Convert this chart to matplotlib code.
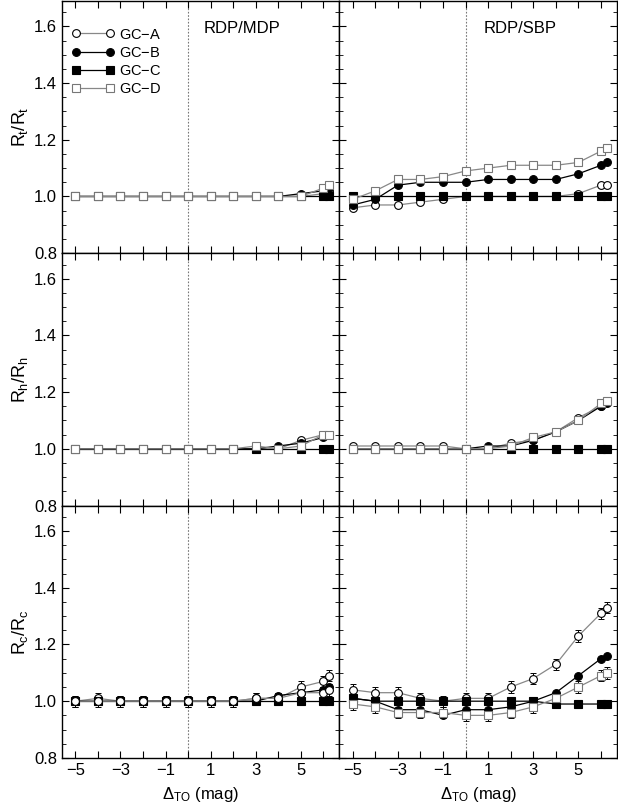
import matplotlib
matplotlib.use('Agg')
import matplotlib.pyplot as plt
from matplotlib.ticker import MultipleLocator, FormatStrFormatter

plt.rcParams['font.family'] = ['Liberation Sans', 'DejaVu Sans']
plt.rcParams['mathtext.fontset'] = 'custom'
plt.rcParams['mathtext.rm'] = 'Liberation Sans'
plt.rcParams['mathtext.it'] = 'Liberation Sans'

dto = [-5, -4, -3, -2, -1, 0, 1, 2, 3, 4, 5, 6, 6.25]

# R_t, RDP/MDP
rt_mdp_a = [1.0, 1.0, 1.0, 1.0, 1.0, 1.0, 1.0, 1.0, 1.0, 1.0, 1.0, 1.01, 1.02]
rt_mdp_b = [1.0, 1.0, 1.0, 1.0, 1.0, 1.0, 1.0, 1.0, 1.0, 1.0, 1.01, 1.02, 1.03]
rt_mdp_c = [1.0, 1.0, 1.0, 1.0, 1.0, 1.0, 1.0, 1.0, 1.0, 1.0, 1.0, 1.0, 1.0]
rt_mdp_d = [1.0, 1.0, 1.0, 1.0, 1.0, 1.0, 1.0, 1.0, 1.0, 1.0, 1.0, 1.03, 1.04]
# R_t, RDP/SBP
rt_sbp_a = [0.96, 0.97, 0.97, 0.98, 0.99, 1.0, 1.0, 1.0, 1.0, 1.0, 1.01, 1.04, 1.04]
rt_sbp_b = [0.97, 0.99, 1.04, 1.05, 1.05, 1.05, 1.06, 1.06, 1.06, 1.06, 1.08, 1.11, 1.12]
rt_sbp_c = [1.0, 1.0, 1.0, 1.0, 1.0, 1.0, 1.0, 1.0, 1.0, 1.0, 1.0, 1.0, 1.0]
rt_sbp_d = [0.99, 1.02, 1.06, 1.06, 1.07, 1.09, 1.10, 1.11, 1.11, 1.11, 1.12, 1.16, 1.17]
# R_h, RDP/MDP
rh_mdp_a = [1.0, 1.0, 1.0, 1.0, 1.0, 1.0, 1.0, 1.0, 1.0, 1.0, 1.03, 1.05, 1.05]
rh_mdp_b = [1.0, 1.0, 1.0, 1.0, 1.0, 1.0, 1.0, 1.0, 1.0, 1.01, 1.02, 1.04, 1.05]
rh_mdp_c = [1.0, 1.0, 1.0, 1.0, 1.0, 1.0, 1.0, 1.0, 1.0, 1.0, 1.0, 1.0, 1.0]
rh_mdp_d = [1.0, 1.0, 1.0, 1.0, 1.0, 1.0, 1.0, 1.0, 1.01, 1.0, 1.01, 1.05, 1.05]
# R_h, RDP/SBP
rh_sbp_a = [1.01, 1.01, 1.01, 1.01, 1.01, 1.0, 1.0, 1.02, 1.03, 1.06, 1.11, 1.15, 1.17]
rh_sbp_b = [1.0, 1.0, 1.0, 1.0, 1.0, 1.0, 1.01, 1.01, 1.03, 1.06, 1.10, 1.15, 1.16]
rh_sbp_c = [1.0, 1.0, 1.0, 1.0, 1.0, 1.0, 1.0, 1.0, 1.0, 1.0, 1.0, 1.0, 1.0]
rh_sbp_d = [1.0, 1.0, 1.0, 1.0, 1.0, 1.0, 1.0, 1.01, 1.04, 1.06, 1.10, 1.16, 1.17]
# R_c, RDP/MDP
rc_mdp_a = [1.0, 1.01, 1.0, 1.0, 1.0, 1.0, 1.0, 1.0, 1.01, 1.01, 1.05, 1.07, 1.09]
rc_mdp_b = [1.0, 1.0, 1.0, 1.0, 1.0, 1.0, 1.0, 1.0, 1.0, 1.02, 1.03, 1.04, 1.05]
rc_mdp_c = [1.0, 1.0, 1.0, 1.0, 1.0, 1.0, 1.0, 1.0, 1.0, 1.0, 1.0, 1.0, 1.0]
rc_mdp_d = [1.0, 1.0, 1.0, 1.0, 1.0, 1.0, 1.0, 1.0, 1.01, 1.01, 1.03, 1.03, 1.04]
# R_c, RDP/SBP
rc_sbp_a = [1.04, 1.03, 1.03, 1.01, 1.0, 1.01, 1.01, 1.05, 1.08, 1.13, 1.23, 1.31, 1.33]
rc_sbp_b = [1.01, 1.0, 0.97, 0.97, 0.95, 0.97, 0.97, 0.98, 1.0, 1.03, 1.09, 1.15, 1.16]
rc_sbp_c = [1.01, 1.0, 1.0, 1.0, 1.0, 1.0, 1.0, 1.0, 1.0, 0.99, 0.99, 0.99, 0.99]
rc_sbp_d = [0.99, 0.98, 0.96, 0.96, 0.96, 0.95, 0.95, 0.96, 0.98, 1.01, 1.05, 1.09, 1.10]
rc_err = 0.02

labels = ['GC$-$A', 'GC$-$B', 'GC$-$C', 'GC$-$D']
ylabels = ['$R_t/R_t$', '$R_h/R_h$', '$R_c/R_c$']
titles = ['RDP/MDP', 'RDP/SBP']
xticklabels = ['\u22125', '', '\u22123', '', '\u22121', '', '1', '', '3', '', '5', '']

panels = [
    [(rt_mdp_a, rt_mdp_b, rt_mdp_c, rt_mdp_d), (rt_sbp_a, rt_sbp_b, rt_sbp_c, rt_sbp_d)],
    [(rh_mdp_a, rh_mdp_b, rh_mdp_c, rh_mdp_d), (rh_sbp_a, rh_sbp_b, rh_sbp_c, rh_sbp_d)],
    [(rc_mdp_a, rc_mdp_b, rc_mdp_c, rc_mdp_d), (rc_sbp_a, rc_sbp_b, rc_sbp_c, rc_sbp_d)],
]

styles = [
    dict(marker='o', mfc='white', mec='black', color='#888888'),
    dict(marker='o', mfc='black', mec='black', color='black'),
    dict(marker='s', mfc='black', mec='black', color='black'),
    dict(marker='s', mfc='white', mec='#777777', color='#888888'),
]

fig, axes = plt.subplots(3, 2, figsize=(6.18, 8.08), dpi=100, sharex=True, sharey=True)
fig.subplots_adjust(left=0.100, right=0.998, top=0.999, bottom=0.062, wspace=0, hspace=0)

for r in range(3):
    for c in range(2):
        ax = axes[r, c]
        ax.axvline(0, color='#777777', ls=(0, (1.5, 1.5)), lw=0.8, zorder=1)
        series = panels[r][c]
        for k in range(4):
            st = dict(styles[k])
            if r == 2 and c == 0 and k == 3:
                st['marker'] = 'o'
                st['mec'] = 'black'
            if r == 2 and k in (0, 3):
                ax.errorbar(dto, series[k], yerr=rc_err, fmt='none', ecolor='black',
                            elinewidth=0.7, capsize=2.5, capthick=0.7, zorder=2)
            ax.plot(dto, series[k], lw=0.9, ms=5.6, mew=0.8, label=labels[k], zorder=3, **st)
        for s in ax.spines.values():
            s.set_linewidth(1.0)

ax0 = axes[0, 0]
ax0.set_xlim(-5.6, 6.7)
ax0.set_ylim(0.8, 1.69)
ax0.xaxis.set_major_locator(MultipleLocator(1))
ax0.yaxis.set_major_locator(MultipleLocator(0.2))
ax0.yaxis.set_minor_locator(MultipleLocator(0.05))
ax0.yaxis.set_major_formatter(FormatStrFormatter('%.1f'))

for r in range(3):
    for c in range(2):
        ax = axes[r, c]
        ax.tick_params(which='both', direction='in', top=True, right=True, labelsize=12)
        ax.tick_params(which='major', length=5)
        ax.tick_params(which='minor', length=3)
    axes[r, 0].set_ylabel(ylabels[r], fontsize=13, labelpad=3)

for c in range(2):
    ax = axes[2, c]
    ax.set_xticks(range(-5, 7))
    ax.set_xticklabels(xticklabels)
    ax.set_xlabel('$\\Delta_{TO}$ (mag)', fontsize=12, labelpad=5)

for c in range(2):
    axes[0, c].text(0.65, 0.89, titles[c], transform=axes[0, c].transAxes,
                    ha='center', va='center', fontsize=12)

axes[0, 0].legend(loc='upper left', frameon=False, fontsize=10.5, handlelength=2.9,
                  numpoints=2, handletextpad=0.35, labelspacing=0.28,
                  bbox_to_anchor=(0.015, 0.917), borderaxespad=0.0, borderpad=0.4)

fig.savefig('out.png', dpi=100)
